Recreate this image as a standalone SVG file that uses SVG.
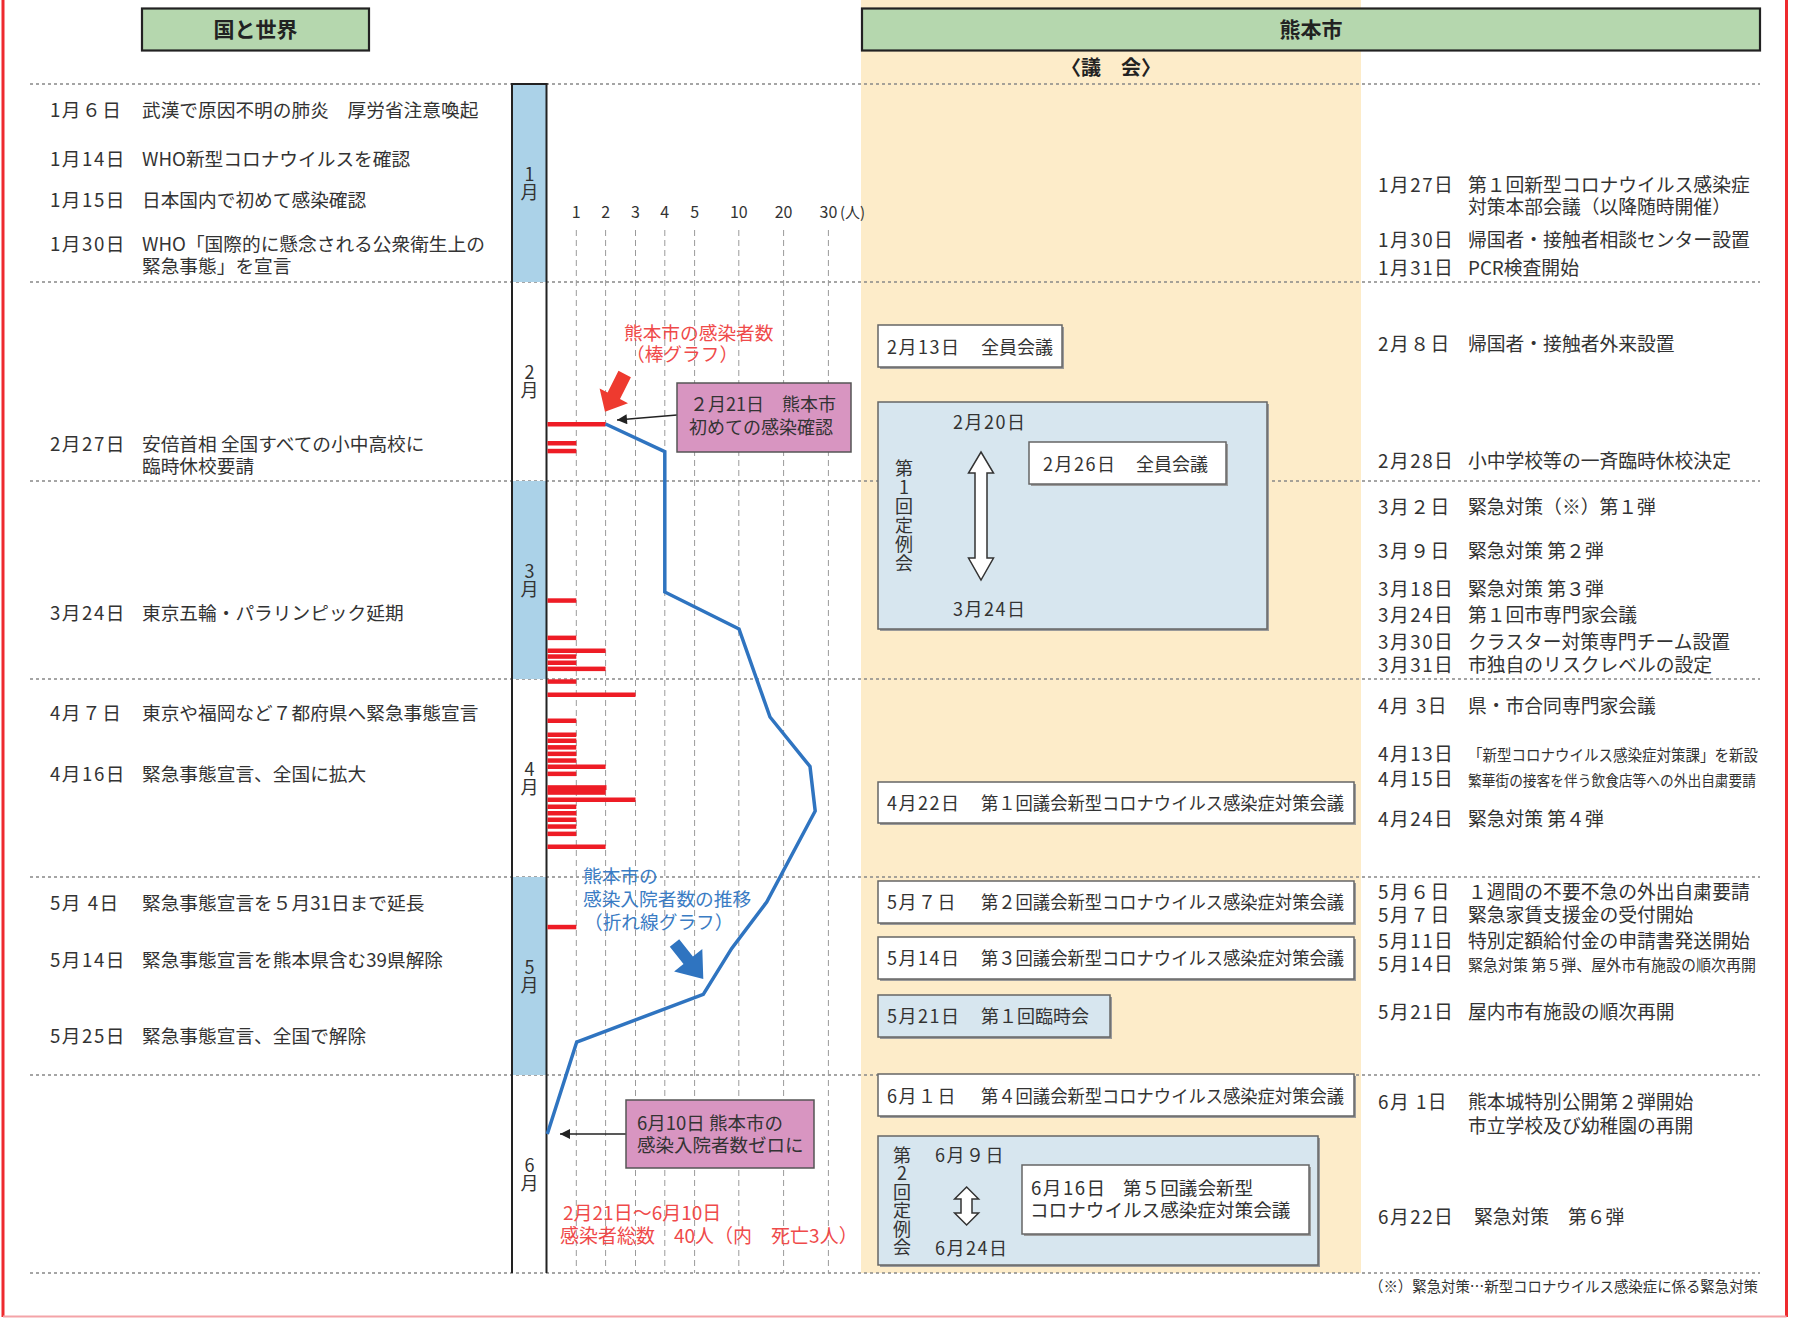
<svg xmlns="http://www.w3.org/2000/svg" width="1799" height="1318" viewBox="0 0 1799 1318">
<style>
text{font-family:"Noto Sans CJK JP","Noto Sans",sans-serif;fill:#333;}
.t{font-size:18.7px;}
.r{font-size:18.8px;}
.b{font-size:18px;}
.d{letter-spacing:1.5px;}
.h{font-size:21px;font-weight:bold;fill:#222;}
.ax{font-size:16px;text-anchor:middle;}
.v{font-size:18px;writing-mode:vertical-rl;text-orientation:upright;}
.red{font-size:18.7px;fill:#ef4a4a;}
.blu{font-size:18.7px;fill:#3a7cc4;}
.dash{stroke:#888;stroke-width:1.6;stroke-dasharray:3 3;fill:none;}
.grid{stroke:#9a9a9a;stroke-width:1;stroke-dasharray:6 4;fill:none;}
.wbox{fill:#fff;stroke:#666;stroke-width:1.5;}
.bbox{fill:#d7e6ef;stroke:#666;stroke-width:1.5;}
.pbox{fill:#d895c1;stroke:#555;stroke-width:1.5;}
.shadow{fill:#9a9a9a;}
.bar{fill:#ee1c25;}
.hdr{fill:#b5d7ae;stroke:#222;stroke-width:2.2;}
</style>
<defs>
<marker id="ah" viewBox="0 0 10 10" refX="10" refY="5" markerWidth="11" markerHeight="10" markerUnits="userSpaceOnUse" orient="auto"><path d="M0,0 L10,5 L0,10 z" fill="#222"/></marker>
</defs>
<rect x="0" y="0" width="1799" height="1318" fill="#fff"/>
<rect x="861" y="0" width="500" height="1273" fill="#fdecc9"/>
<g id="frame">
<line x1="3" y1="0" x2="3" y2="1317" stroke="#ee2a2e" stroke-width="3"/>
<line x1="1786.5" y1="0" x2="1786.5" y2="1317" stroke="#ee2a2e" stroke-width="3"/>
<line x1="3" y1="1316.5" x2="1786.5" y2="1316.5" stroke="#f4a3a8" stroke-width="2"/>
</g>
<g id="hdr-world"><rect class="hdr" x="142" y="8.5" width="227" height="42"/><text class="h" x="255.5" y="37" text-anchor="middle">国と世界</text></g>
<g id="hdr-city"><rect class="hdr" x="862" y="8.5" width="898" height="42"/><text class="h" x="1311" y="37" text-anchor="middle">熊本市</text></g>
<g id="hdr-council"><text class="h" x="1111" y="75" text-anchor="middle" style="font-size:20px">〈議　会〉</text></g>
<g id="separators">
<line class="dash" x1="30" y1="84" x2="1760" y2="84"/>
<line class="dash" x1="30" y1="282" x2="1760" y2="282"/>
<line class="dash" x1="30" y1="481" x2="1760" y2="481"/>
<line class="dash" x1="30" y1="679" x2="1760" y2="679"/>
<line class="dash" x1="30" y1="877" x2="1760" y2="877"/>
<line class="dash" x1="30" y1="1075" x2="1760" y2="1075"/>
<line class="dash" x1="30" y1="1273" x2="1760" y2="1273"/>
</g>
<g id="grid">
<line class="grid" x1="576.3" y1="230" x2="576.3" y2="1273"/>
<line class="grid" x1="605.6" y1="230" x2="605.6" y2="1273"/>
<line class="grid" x1="635.5" y1="230" x2="635.5" y2="1273"/>
<line class="grid" x1="664.8" y1="230" x2="664.8" y2="1273"/>
<line class="grid" x1="694.6" y1="230" x2="694.6" y2="1273"/>
<line class="grid" x1="738.8" y1="230" x2="738.8" y2="1273"/>
<line class="grid" x1="783.6" y1="230" x2="783.6" y2="1273"/>
<line class="grid" x1="828.4" y1="230" x2="828.4" y2="1273"/>
<text class="ax" x="576.3" y="218">1</text>
<text class="ax" x="605.6" y="218">2</text>
<text class="ax" x="635.5" y="218">3</text>
<text class="ax" x="664.8" y="218">4</text>
<text class="ax" x="694.6" y="218">5</text>
<text class="ax" x="738.8" y="218">10</text>
<text class="ax" x="783.6" y="218">20</text>
<text class="ax" x="828.4" y="218">30</text>
<text x="840" y="218" style="font-size:15px">(人)</text>
</g>
<g id="months">
<rect x="512" y="84" width="34.5" height="198" fill="#abd2e8"/>
<rect x="512" y="481" width="34.5" height="198" fill="#abd2e8"/>
<rect x="512" y="877" width="34.5" height="198" fill="#abd2e8"/>
<line x1="512" y1="83" x2="512" y2="1273" stroke="#222" stroke-width="2"/>
<line x1="546.5" y1="83" x2="546.5" y2="1273" stroke="#222" stroke-width="2"/>
<line x1="511" y1="84" x2="547.5" y2="84" stroke="#222" stroke-width="2"/>
<text class="v" x="529.5" y="165">1月</text>
<text class="v" x="529.5" y="363.5">2月</text>
<text class="v" x="529.5" y="562">3月</text>
<text class="v" x="529.5" y="760">4月</text>
<text class="v" x="529.5" y="958">5月</text>
<text class="v" x="529.5" y="1156">6月</text>
</g>
<g id="bars">
<rect class="bar" x="547.5" y="422" width="58.1" height="4.5"/>
<rect class="bar" x="547.5" y="441" width="28.8" height="4.5"/>
<rect class="bar" x="547.5" y="448.8" width="28.8" height="4.5"/>
<rect class="bar" x="547.5" y="598.3" width="28.8" height="4.5"/>
<rect class="bar" x="547.5" y="635.6" width="28.8" height="4.5"/>
<rect class="bar" x="547.5" y="648.5" width="58.1" height="4.5"/>
<rect class="bar" x="547.5" y="654.3" width="28.8" height="4.5"/>
<rect class="bar" x="547.5" y="660.5" width="28.8" height="4.5"/>
<rect class="bar" x="547.5" y="666.6" width="58.1" height="4.5"/>
<rect class="bar" x="547.5" y="679.3" width="28.8" height="4.5"/>
<rect class="bar" x="547.5" y="692.5" width="88" height="4.5"/>
<rect class="bar" x="547.5" y="718.5" width="28.8" height="4.5"/>
<rect class="bar" x="547.5" y="732.5" width="28.8" height="4.5"/>
<rect class="bar" x="547.5" y="738.5" width="28.8" height="4.5"/>
<rect class="bar" x="547.5" y="745.1" width="28.8" height="4.5"/>
<rect class="bar" x="547.5" y="751.6" width="28.8" height="4.5"/>
<rect class="bar" x="547.5" y="758.3" width="28.8" height="4.5"/>
<rect class="bar" x="547.5" y="764.5" width="58.1" height="4.5"/>
<rect class="bar" x="547.5" y="771.6" width="28.8" height="4.5"/>
<rect class="bar" x="547.5" y="785.2" width="59" height="4.8"/>
<rect class="bar" x="547.5" y="790" width="58.1" height="4.8"/>
<rect class="bar" x="547.5" y="797.5" width="88" height="4.5"/>
<rect class="bar" x="547.5" y="804.5" width="28.8" height="4.5"/>
<rect class="bar" x="547.5" y="811" width="28.8" height="4.5"/>
<rect class="bar" x="547.5" y="817.5" width="28.8" height="4.5"/>
<rect class="bar" x="547.5" y="824.3" width="28.8" height="4.5"/>
<rect class="bar" x="547.5" y="831.6" width="28.8" height="4.5"/>
<rect class="bar" x="547.5" y="844.5" width="58.1" height="4.5"/>
<rect class="bar" x="547.5" y="924.8" width="28.8" height="4.5"/>
</g>
<g id="connectors">
<polyline points="605.6,424 664.8,451.7 664.8,592 739,629 770,717 810,766.5 815.2,811 766.7,902 731.7,948.4 703.3,994.4 576.7,1042 547.3,1134" fill="none" stroke="#2f74c0" stroke-width="3.5" stroke-linejoin="miter"/>
<polygon points="618.5,370.8 630.9,377.2 620,399 628,403.2 605,411.7 599.6,388.4 607.6,392.6" fill="#ee3a2f"/>
<polygon points="669.8,946.8 679.2,939.3 692.9,956.5 702.3,949 703.3,978.9 674.1,971.5 683.5,964" fill="#2f74c0"/>
<line x1="677" y1="415" x2="617" y2="420" stroke="#222" stroke-width="1.3" marker-end="url(#ah)"/>
<line x1="626" y1="1134" x2="560" y2="1134" stroke="#222" stroke-width="1.3" marker-end="url(#ah)"/>
</g>
<g id="label-bars">
<text class="red"><tspan x="624" y="340">熊本市の感染者数</tspan><tspan x="626" y="361">（棒グラフ）</tspan></text>
</g>
<g id="label-line">
<text class="blu"><tspan x="583" y="883">熊本市の</tspan><tspan x="583" y="906">感染入院者数の推移</tspan><tspan x="584" y="929">（折れ線グラフ）</tspan></text>
</g>
<g id="note-first">
<rect class="pbox" x="677" y="383" width="174" height="69"/>
<text class="b"><tspan x="690" y="411">２月21日　熊本市</tspan><tspan x="689" y="434">初めての感染確認</tspan></text>
</g>
<g id="note-zero">
<rect class="pbox" x="626" y="1100" width="188" height="68"/>
<text class="b" style="font-size:18.5px"><tspan x="637" y="1130">6月10日 熊本市の</tspan><tspan x="637" y="1152">感染入院者数ゼロに</tspan></text>
</g>
<g id="total">
<text class="red" style="font-size:19px"><tspan x="563" y="1220">2月21日〜6月10日</tspan><tspan x="560" y="1243">感染者総数　40人（内　死亡3人）</tspan></text>
</g>
<g id="world">
<text class="t d" x="50" y="117">1月６日</text><text class="t" x="142" y="117">武漢で原因不明の肺炎　厚労省注意喚起</text>
<text class="t d" x="50" y="166">1月14日</text><text class="t" x="142" y="166">WHO新型コロナウイルスを確認</text>
<text class="t d" x="50" y="207">1月15日</text><text class="t" x="142" y="207">日本国内で初めて感染確認</text>
<text class="t d" x="50" y="251">1月30日</text><text class="t"><tspan x="142" y="251">WHO「国際的に懸念される公衆衛生上の</tspan><tspan x="142" y="273">緊急事態」を宣言</tspan></text>
<text class="t d" x="50" y="451">2月27日</text><text class="t"><tspan x="142" y="451">安倍首相 全国すべての小中高校に</tspan><tspan x="142" y="473">臨時休校要請</tspan></text>
<text class="t d" x="50" y="620">3月24日</text><text class="t" x="142" y="620">東京五輪・パラリンピック延期</text>
<text class="t d" x="50" y="720">4月７日</text><text class="t" x="142" y="720">東京や福岡など７都府県へ緊急事態宣言</text>
<text class="t d" x="50" y="781">4月16日</text><text class="t" x="142" y="781">緊急事態宣言、全国に拡大</text>
<text class="t d" x="50" y="910">5月 4日</text><text class="t" x="142" y="910">緊急事態宣言を５月31日まで延長</text>
<text class="t d" x="50" y="967">5月14日</text><text class="t" x="142" y="967">緊急事態宣言を熊本県含む39県解除</text>
<text class="t d" x="50" y="1043">5月25日</text><text class="t" x="142" y="1043">緊急事態宣言、全国で解除</text>
</g>
<g id="council-0213">
<rect class="shadow" x="880" y="327" width="184" height="42"/>
<rect class="wbox" x="878" y="325" width="184" height="42"/>
<text class="b d" x="887" y="354">2月13日</text><text class="b" x="981" y="354">全員会議</text>
</g>
<g id="council-regular1">
<rect class="shadow" x="880" y="404" width="389" height="227"/>
<rect class="bbox" x="878" y="402" width="389" height="227"/>
<text class="b d" x="953" y="429">2月20日</text>
<text class="b d" x="953" y="616">3月24日</text>
<text class="v" x="904" y="459" style="letter-spacing:1px">第1回定例会</text>
<polygon points="981,452 993.5,473 987,473 987,558 993.5,558 981,580 968.5,558 975,558 975,473 968.5,473" fill="#fff" stroke="#333" stroke-width="1.5"/>
</g>
<g id="council-0226">
<rect class="shadow" x="1031" y="444" width="197" height="42"/>
<rect class="wbox" x="1029" y="442" width="197" height="42"/>
<text class="b d" x="1043" y="471">2月26日</text><text class="b" x="1136" y="471">全員会議</text>
</g>
<g id="council-0422">
<rect class="shadow" x="880" y="784" width="476" height="41"/>
<rect class="wbox" x="878" y="782" width="476" height="41"/>
<text class="b d" x="887" y="810">4月22日</text><text class="b" x="981" y="810" textLength="363" lengthAdjust="spacingAndGlyphs">第１回議会新型コロナウイルス感染症対策会議</text>
</g>
<g id="council-0507">
<rect class="shadow" x="880" y="883" width="476" height="42"/>
<rect class="wbox" x="878" y="881" width="476" height="42"/>
<text class="b d" x="887" y="909">5月７日</text><text class="b" x="981" y="909" textLength="363" lengthAdjust="spacingAndGlyphs">第２回議会新型コロナウイルス感染症対策会議</text>
</g>
<g id="council-0514">
<rect class="shadow" x="880" y="939" width="476" height="42"/>
<rect class="wbox" x="878" y="937" width="476" height="42"/>
<text class="b d" x="887" y="965">5月14日</text><text class="b" x="981" y="965" textLength="363" lengthAdjust="spacingAndGlyphs">第３回議会新型コロナウイルス感染症対策会議</text>
</g>
<g id="council-0521">
<rect class="shadow" x="880" y="997" width="232" height="42"/>
<rect class="bbox" x="878" y="995" width="232" height="42"/>
<text class="b d" x="887" y="1023">5月21日</text><text class="b" x="981" y="1023">第１回臨時会</text>
</g>
<g id="council-0601">
<rect class="shadow" x="880" y="1076" width="476" height="42"/>
<rect class="wbox" x="878" y="1074" width="476" height="42"/>
<text class="b d" x="887" y="1103">6月１日</text><text class="b" x="981" y="1103" textLength="363" lengthAdjust="spacingAndGlyphs">第４回議会新型コロナウイルス感染症対策会議</text>
</g>
<g id="council-regular2">
<rect class="shadow" x="880" y="1138" width="440" height="129"/>
<rect class="bbox" x="878" y="1136" width="440" height="129"/>
<text class="b d" x="935" y="1162">6月９日</text>
<text class="b d" x="935" y="1255">6月24日</text>
<text class="v" x="902" y="1146" style="letter-spacing:0.5px">第2回定例会</text>
<polygon points="966.6,1187 978.6,1199 972,1199 972,1213 978.6,1213 966.6,1225 954.6,1213 961,1213 961,1199 954.6,1199" fill="#fff" stroke="#333" stroke-width="1.5"/>
</g>
<g id="council-0616">
<rect class="shadow" x="1024" y="1167" width="287" height="69"/>
<rect class="wbox" x="1022" y="1165" width="287" height="69"/>
<text class="b" style="font-size:18.6px"><tspan x="1031" y="1195" style="letter-spacing:1.5px">6月16日</tspan><tspan x="1123" y="1195">第５回議会新型</tspan><tspan x="1030" y="1217">コロナウイルス感染症対策会議</tspan></text>
</g>
<g id="city">
<text class="r d" x="1378" y="192">1月27日</text><text class="r"><tspan x="1468" y="192">第１回新型コロナウイルス感染症</tspan><tspan x="1468" y="214">対策本部会議（以降随時開催）</tspan></text>
<text class="r d" x="1378" y="247">1月30日</text><text class="r" x="1468" y="247">帰国者・接触者相談センター設置</text>
<text class="r d" x="1378" y="275">1月31日</text><text class="r" x="1468" y="275">PCR検査開始</text>
<text class="r d" x="1378" y="351">2月８日</text><text class="r" x="1468" y="351">帰国者・接触者外来設置</text>
<text class="r d" x="1378" y="468">2月28日</text><text class="r" x="1468" y="468">小中学校等の一斉臨時休校決定</text>
<text class="r d" x="1378" y="514">3月２日</text><text class="r" x="1468" y="514">緊急対策（※）第１弾</text>
<text class="r d" x="1378" y="558">3月９日</text><text class="r" x="1468" y="558">緊急対策 第２弾</text>
<text class="r d" x="1378" y="596">3月18日</text><text class="r" x="1468" y="596">緊急対策 第３弾</text>
<text class="r d" x="1378" y="622">3月24日</text><text class="r" x="1468" y="622">第１回市専門家会議</text>
<text class="r d" x="1378" y="649">3月30日</text><text class="r" x="1468" y="649">クラスター対策専門チーム設置</text>
<text class="r d" x="1378" y="672">3月31日</text><text class="r" x="1468" y="672">市独自のリスクレベルの設定</text>
<text class="r d" x="1378" y="713">4月 3日</text><text class="r" x="1468" y="713">県・市合同専門家会議</text>
<text class="r d" x="1378" y="761">4月13日</text><text x="1468" y="761" style="font-size:15.5px" textLength="290" lengthAdjust="spacingAndGlyphs">「新型コロナウイルス感染症対策課」を新設</text>
<text class="r d" x="1378" y="786">4月15日</text><text x="1468" y="786" style="font-size:15px" textLength="288" lengthAdjust="spacingAndGlyphs">繁華街の接客を伴う飲食店等への外出自粛要請</text>
<text class="r d" x="1378" y="826">4月24日</text><text class="r" x="1468" y="826">緊急対策 第４弾</text>
<text class="r d" x="1378" y="899">5月６日</text><text class="r" x="1468" y="899">１週間の不要不急の外出自粛要請</text>
<text class="r d" x="1378" y="922">5月７日</text><text class="r" x="1468" y="922">緊急家賃支援金の受付開始</text>
<text class="r d" x="1378" y="948">5月11日</text><text class="r" x="1468" y="948">特別定額給付金の申請書発送開始</text>
<text class="r d" x="1378" y="971">5月14日</text><text x="1468" y="971" style="font-size:15.5px" textLength="288" lengthAdjust="spacingAndGlyphs">緊急対策 第５弾、屋外市有施設の順次再開</text>
<text class="r d" x="1378" y="1019">5月21日</text><text class="r" x="1468" y="1019">屋内市有施設の順次再開</text>
<text class="r d" x="1378" y="1109">6月 1日</text><text class="r"><tspan x="1468" y="1109">熊本城特別公開第２弾開始</tspan><tspan x="1468" y="1133">市立学校及び幼稚園の再開</tspan></text>
<text class="r d" x="1378" y="1224">6月22日</text><text class="r" x="1474" y="1224">緊急対策　第６弾</text>
<text x="1369" y="1292" style="font-size:15px" textLength="389" lengthAdjust="spacingAndGlyphs">（※）緊急対策…新型コロナウイルス感染症に係る緊急対策</text>
</g>
</svg>
